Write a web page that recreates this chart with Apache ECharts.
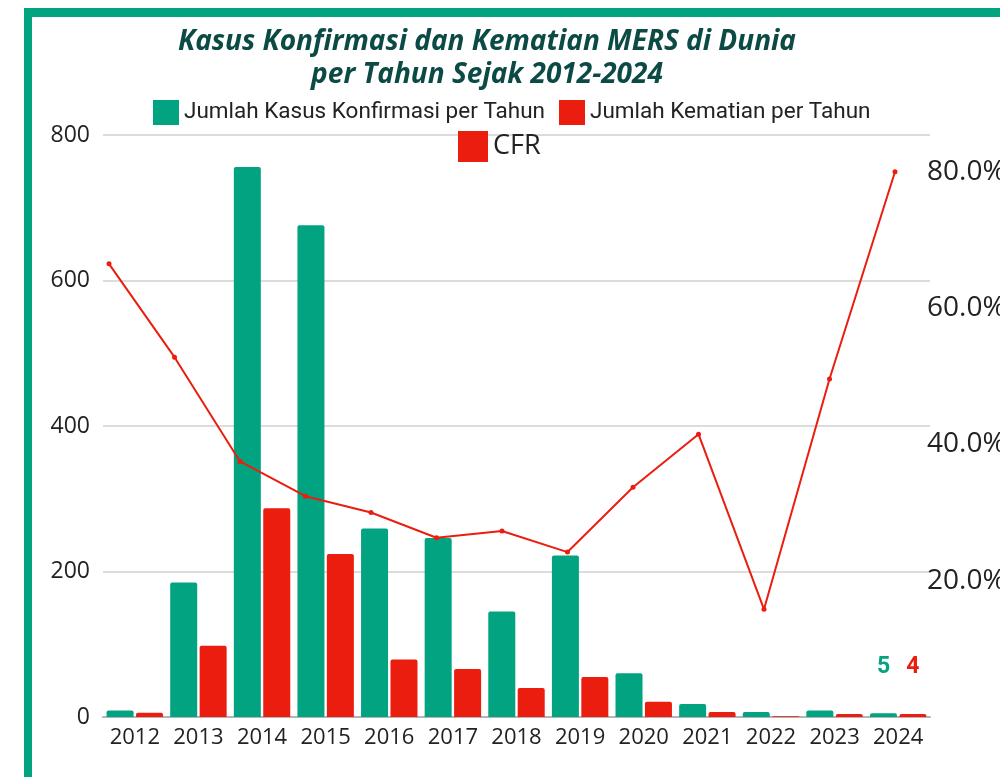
<!DOCTYPE html>
<html>
<head>
<meta charset="utf-8">
<script src="https://cdn.jsdelivr.net/npm/echarts@6/dist/echarts.min.js"></script>
<style>
body{ margin: 0; background: #fff; }
#chart{ width: 1000px; height: 777px; }
</style>
</head>
<body>
<div id="chart"></div>
<script>
// data
var years = ['2012', '2013', '2014', '2015', '2016', '2017', '2018', '2019', '2020', '2021', '2022', '2023', '2024']
var kasus = [9, 185, 756, 676, 259, 246, 145, 222, 60, 18, 7, 9, 5]
var kematian = [6, 98, 287, 224, 79, 66, 40, 55, 21, 7, 1, 4, 4]
var cfr = [66.5, 52.8, 37.5, 32.4, 30.0, 26.3, 27.3, 24.2, 33.7, 41.5, 15.8, 49.6, 80.0]
var leftTicks = [0, 200, 400, 600, 800]

var green = '#02a381'
var red = '#ea1d0f'

var chart = echarts.init(document.getElementById('chart'))

var lastLabel = function (color) {
  return {
    show: true,
    position: 'top',
    distance: 35,
    formatter: '{c}',
    color: color,
    fontFamily: 'Roboto',
    fontWeight: 'bold',
    fontSize: 23
  }
}

var kasusData = kasus.map(function (v, i) {
  return i === kasus.length - 1 ? {value: v, label: lastLabel(green)} : v
})
var kematianData = kematian.map(function (v, i) {
  return i === kematian.length - 1 ? {value: v, label: lastLabel(red)} : v
})

chart.setOption({
  animation: false,
  title: {
    text: 'Kasus Konfirmasi dan Kematian MERS di Dunia\nper Tahun Sejak 2012-2024',
    left: 482,
    textAlign: 'center',
    top: 21,
    textStyle: {
      fontFamily: 'Open Sans',
      fontStyle: 'italic',
      fontWeight: 'bold',
      fontSize: 28,
      lineHeight: 33,
      color: '#0c4a45'
    }
  },
  graphic: [
    {type: 'rect', left: 24, top: 8, shape: {width: 976, height: 9}, style: {fill: green}},
    {type: 'rect', left: 24, top: 8, shape: {width: 8, height: 769}, style: {fill: green}}
  ],
  legend: [
    {
      data: ['Jumlah Kasus Konfirmasi per Tahun', 'Jumlah Kematian per Tahun'],
      left: 153,
      top: 100,
      padding: 0,
      icon: 'rect',
      itemWidth: 26,
      itemHeight: 25,
      itemGap: 14,
      textStyle: {fontFamily: 'Roboto', fontSize: 22.5, color: '#222'}
    },
    {
      data: ['CFR'],
      left: 458,
      top: 131,
      padding: 0,
      icon: 'rect',
      itemWidth: 30,
      itemHeight: 31,
      textStyle: {fontFamily: 'Open Sans', fontSize: 27, color: '#222'}
    }
  ],
  grid: [
    {left: 103, right: 70, top: 135, bottom: 60, containLabel: false, outerBoundsMode: 'none'},
    {left: 109, right: 105, top: 135, bottom: 60, containLabel: false, outerBoundsMode: 'none'}
  ],
  xAxis: [
    {
      type: 'category',
      gridIndex: 0,
      data: years,
      axisLine: {lineStyle: {color: '#b5b5b5', width: 2}},
      axisTick: {show: false},
      axisLabel: {interval: 0, margin: 10, fontFamily: 'Open Sans', fontSize: 22, color: '#222'}
    },
    {
      type: 'category',
      gridIndex: 1,
      data: years,
      boundaryGap: false,
      show: false
    }
  ],
  yAxis: [
    {
      type: 'value',
      gridIndex: 0,
      min: leftTicks[0],
      max: leftTicks[leftTicks.length - 1],
      interval: 200,
      axisLine: {show: false},
      axisTick: {show: false},
      splitLine: {lineStyle: {color: '#d0d0d0', width: 1.5}},
      axisLabel: {margin: 13, fontFamily: 'Open Sans', fontSize: 23, color: '#222'}
    },
    {
      type: 'value',
      gridIndex: 1,
      position: 'right',
      min: 0,
      max: 85.4,
      interval: 20,
      axisLine: {show: false},
      axisTick: {show: false},
      splitLine: {show: false},
      axisLabel: {
        margin: 32,
        showMinLabel: false,
        showMaxLabel: false,
        fontFamily: 'Open Sans',
        fontSize: 28,
        color: '#222',
        formatter: function (v) { return v.toFixed(1) + '%' }
      }
    }
  ],
  series: [
    {
      name: 'Jumlah Kasus Konfirmasi per Tahun',
      type: 'bar',
      xAxisIndex: 0,
      yAxisIndex: 0,
      data: kasusData,
      barWidth: 27,
      barGap: '9%',
      itemStyle: {color: green, borderRadius: [2, 2, 0, 0]}
    },
    {
      name: 'Jumlah Kematian per Tahun',
      type: 'bar',
      xAxisIndex: 0,
      yAxisIndex: 0,
      data: kematianData,
      barWidth: 27,
      itemStyle: {color: red, borderRadius: [2, 2, 0, 0]}
    },
    {
      name: 'CFR',
      type: 'line',
      xAxisIndex: 1,
      yAxisIndex: 1,
      data: cfr,
      symbol: 'circle',
      symbolSize: 5,
      lineStyle: {color: red, width: 2},
      itemStyle: {color: red}
    }
  ]
})
</script>
</body>
</html>
